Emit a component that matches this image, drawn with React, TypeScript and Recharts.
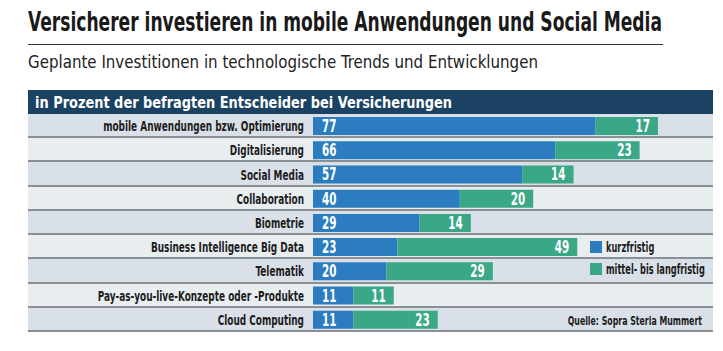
import { BarChart, Bar, XAxis, YAxis, LabelList } from 'recharts'

const categories = [
  'mobile Anwendungen bzw. Optimierung',
  'Digitalisierung',
  'Social Media',
  'Collaboration',
  'Biometrie',
  'Business Intelligence Big Data',
  'Telematik',
  'Pay-as-you-live-Konzepte oder -Produkte',
  'Cloud Computing',
]
const kurzfristig = [77, 66, 57, 40, 29, 23, 20, 11, 11]
const langfristig = [17, 23, 14, 20, 14, 49, 29, 11, 23]
const legendLabels = ['kurzfristig', 'mittel- bis langfristig']

const data = categories.map((name, i) => ({ name, kurz: kurzfristig[i], lang: langfristig[i] }))

const BLUE = '#2b7dc0'
const GREEN = '#3aa787'
const NAVY = '#1b4263'
const ROW_DARK = '#d9e0e7'
const ROW_LIGHT = '#e8edf0'
const SEP = '#8a8f94'
const INK = '#1c1c1c'
const COND = '"DejaVu Sans Condensed", "Liberation Sans", Arial, sans-serif'
const SQUEEZE = 0.68

const CHART_LEFT = 28
const CHART_TOP = 114
const CHART_W = 685
const CHART_H = 218
const ROW_H = CHART_H / categories.length

// narrow text: DejaVu condensed squeezed horizontally
function NarrowText({ x, y, anchor, size, fill, children }: any) {
  return (
    <text
      transform={`translate(${x},${y}) scale(${SQUEEZE},1)`}
      textAnchor={anchor}
      fill={fill}
      fontFamily={COND}
      fontWeight="bold"
      fontSize={size}
    >
      {children}
    </text>
  )
}

function Tick(props: any) {
  const { x, y, payload } = props
  return (
    <NarrowText x={x - 7} y={y + 5} anchor="end" size={14.6} fill={INK}>
      {payload.value}
    </NarrowText>
  )
}

const leftLabel = (props: any) => {
  const { x, y, height, value } = props
  return (
    <NarrowText x={x + 9} y={y + height / 2 + 6} anchor="start" size={17} fill="#fff">
      {value}
    </NarrowText>
  )
}

const rightLabel = (props: any) => {
  const { x, y, width, height, value } = props
  return (
    <NarrowText x={x + width - 8} y={y + height / 2 + 6} anchor="end" size={17} fill="#fff">
      {value}
    </NarrowText>
  )
}

export default function App() {
  return (
    <div style={{ position: 'absolute', left: 0, top: 0, width: 723, height: 351, background: '#fff', overflow: 'hidden' }}>
      {/* title */}
      <svg width={723} height={50} style={{ position: 'absolute', left: 0, top: 0 }}>
        <text
          x={28}
          y={31}
          fontFamily={COND}
          fontWeight="bold"
          fontSize={27}
          fill="#1a1a1a"
          textLength={634}
          lengthAdjust="spacingAndGlyphs"
        >
          Versicherer investieren in mobile Anwendungen und Social Media
        </text>
        <line x1={28} x2={663} y1={44.5} y2={44.5} stroke="#333" strokeWidth={1} />
      </svg>
      <svg width={723} height={30} style={{ position: 'absolute', left: 0, top: 50 }}>
        <text x={28} y={18} fontFamily={COND} fontSize={18} fill="#222" textLength={510} lengthAdjust="spacingAndGlyphs">
          Geplante Investitionen in technologische Trends und Entwicklungen
        </text>
      </svg>

      {/* header bar */}
      <svg width={685} height={24} style={{ position: 'absolute', left: 28, top: 90 }}>
        <rect x={0} y={0} width={685} height={24} fill={NAVY} />
        <text x={7} y={17.5} fontFamily={COND} fontWeight="bold" fontSize={16} fill="#fff" textLength={417} lengthAdjust="spacingAndGlyphs">
          in Prozent der befragten Entscheider bei Versicherungen
        </text>
      </svg>

      {/* row backgrounds */}
      {categories.map((c, i) => (
        <div
          key={c}
          style={{
            position: 'absolute',
            left: CHART_LEFT,
            top: CHART_TOP + i * ROW_H,
            width: CHART_W,
            height: ROW_H,
            background: i % 2 === 0 ? ROW_DARK : ROW_LIGHT,
            borderBottom: `2px solid ${SEP}`,
            boxSizing: 'border-box',
          }}
        />
      ))}

      <div style={{ position: 'absolute', left: CHART_LEFT, top: CHART_TOP }}>
        <BarChart
          width={CHART_W}
          height={CHART_H}
          data={data}
          layout="vertical"
          margin={{ top: 0, right: 33, left: 0, bottom: 0 }}
          barSize={18}
        >
          <XAxis type="number" domain={[0, 100]} hide />
          <YAxis
            dataKey="name"
            type="category"
            width={285}
            axisLine={false}
            tickLine={false}
            tickSize={0}
            tick={<Tick />}
            interval={0}
          />
          <Bar dataKey="kurz" stackId="a" fill={BLUE} isAnimationActive={false}>
            <LabelList dataKey="kurz" content={leftLabel} />
          </Bar>
          <Bar dataKey="lang" stackId="a" fill={GREEN} isAnimationActive={false}>
            <LabelList dataKey="lang" content={rightLabel} />
          </Bar>
        </BarChart>
      </div>

      {/* legend */}
      <svg width={130} height={50} style={{ position: 'absolute', left: 588, top: 236 }}>
        <rect x={2} y={5} width={12} height={12} fill={BLUE} />
        <NarrowText x={18} y={15.5} anchor="start" size={13.5} fill={INK}>{legendLabels[0]}</NarrowText>
        <rect x={2} y={27} width={12} height={12} fill={GREEN} />
        <NarrowText x={18} y={37.5} anchor="start" size={13.5} fill={INK}>{legendLabels[1]}</NarrowText>
      </svg>
      <svg width={200} height={20} style={{ position: 'absolute', left: 503, top: 311 }}>
        <NarrowText x={199} y={14} anchor="end" size={12.8} fill={INK}>Quelle: Sopra Steria Mummert</NarrowText>
      </svg>
    </div>
  )
}
